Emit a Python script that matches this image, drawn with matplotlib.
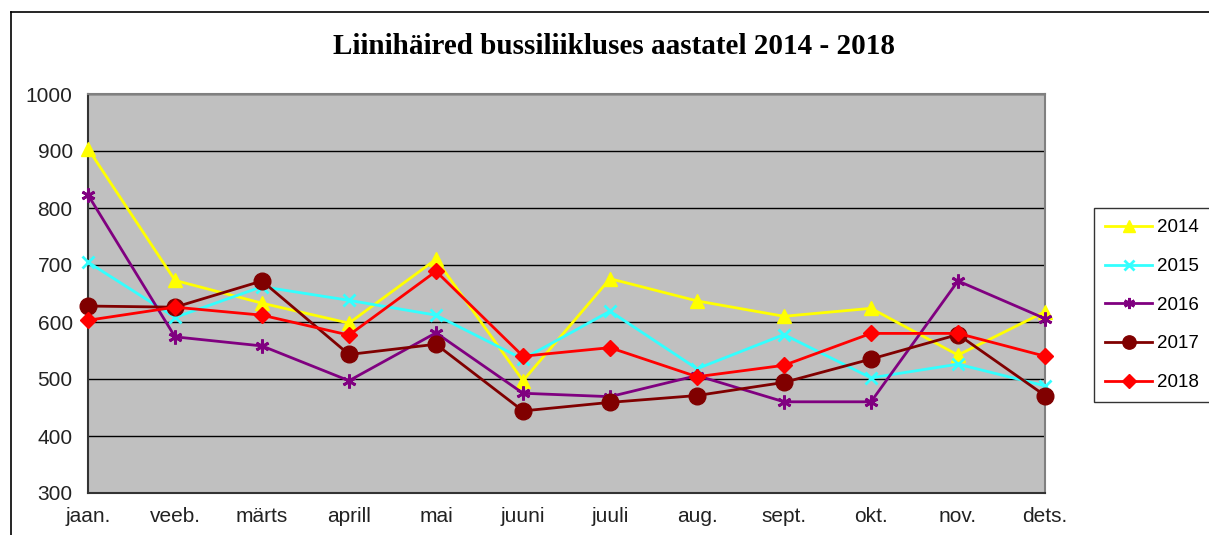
import matplotlib.pyplot as plt
import matplotlib.lines as mlines
import numpy as np

# data
months = ['jaan.', 'veeb.', 'märts', 'aprill', 'mai', 'juuni',
          'juuli', 'aug.', 'sept.', 'okt.', 'nov.', 'dets.']
y2014 = [904, 673, 633, 598, 710, 497, 676, 637, 610, 624, 542, 618]
y2015 = [705, 608, 662, 638, 612, 535, 619, 518, 578, 502, 526, 488]
y2016 = [823, 574, 558, 497, 581, 475, 469, 506, 460, 460, 672, 606]
y2017 = [628, 626, 672, 543, 561, 444, 459, 471, 494, 535, 578, 471]
y2018 = [603, 626, 612, 577, 689, 540, 555, 504, 524, 580, 580, 540]
years = ['2014', '2015', '2016', '2017', '2018']
yticks = [300, 400, 500, 600, 700, 800, 900, 1000]

series = [y2014, y2015, y2016, y2017, y2018]
colors = ['#FFFF00', '#33FFFF', '#800080', '#800000', '#FF0000']
markers = ['^', 'x', (6, 2, 0), 'o', 'D']
msizes = [10, 9, 10, 12, 8.5]

fig = plt.figure(figsize=(12.09, 5.35), dpi=100)
ax = fig.add_axes([88/1209, 1-493/535, (1045-88)/1209, (493-94)/535])
ax.set_facecolor('#C0C0C0')

x = np.arange(len(months))
for s, c, m, ms, lab in zip(series, colors, markers, msizes, years):
    ax.plot(x, s, color=c, marker=m, markersize=ms, linewidth=2.0,
            markeredgewidth=2 if m in ('x', (6, 2, 0)) else 1,
            markeredgecolor=c, markerfacecolor=c, label=lab, clip_on=False, zorder=3)

ax.set_xlim(0, len(months)-1)
ax.set_ylim(300, 1000)
ax.set_yticks(yticks)
ax.set_xticks(x)
ax.set_xticklabels(months)
ax.yaxis.grid(True, color='black', linewidth=1)
ax.set_axisbelow(True)
ax.tick_params(length=0, labelsize=15, pad=11, labelcolor='#222222')
ax.tick_params(axis='x', pad=10)
for lbl in ax.get_xticklabels() + ax.get_yticklabels():
    lbl.set_family('Liberation Sans')
ax.spines['left'].set_color('#333333')
ax.spines['bottom'].set_color('#333333')
ax.spines['top'].set_color('#808080')
ax.spines['right'].set_color('#808080')
for sp in ax.spines.values():
    sp.set_linewidth(1.5)

fig.text(614/1209, 1-47/535, 'Liinihäired bussiliikluses aastatel 2014 - 2018',
         ha='center', va='center', fontsize=21, fontweight='bold',
         family='Liberation Serif')

leg = ax.legend(loc='upper left', bbox_to_anchor=(1094/1209, 1-208/535),
                bbox_transform=fig.transFigure, borderaxespad=0,
                prop={'family': 'Liberation Sans', 'size': 13.5},
                frameon=True, fancybox=False, edgecolor='black',
                handlelength=2.5, labelspacing=1.15, markerscale=0.8,
                borderpad=0.6, handletextpad=0.25)
leg.get_frame().set_linewidth(1)

# outer frame (left and top lines only)
fig.add_artist(mlines.Line2D([11/1209, 11/1209], [0, 1-12/535], color='black', linewidth=1.2))
fig.add_artist(mlines.Line2D([11/1209, 1], [1-12/535, 1-12/535], color='black', linewidth=1.2))

fig.savefig('out.png', dpi=100)
